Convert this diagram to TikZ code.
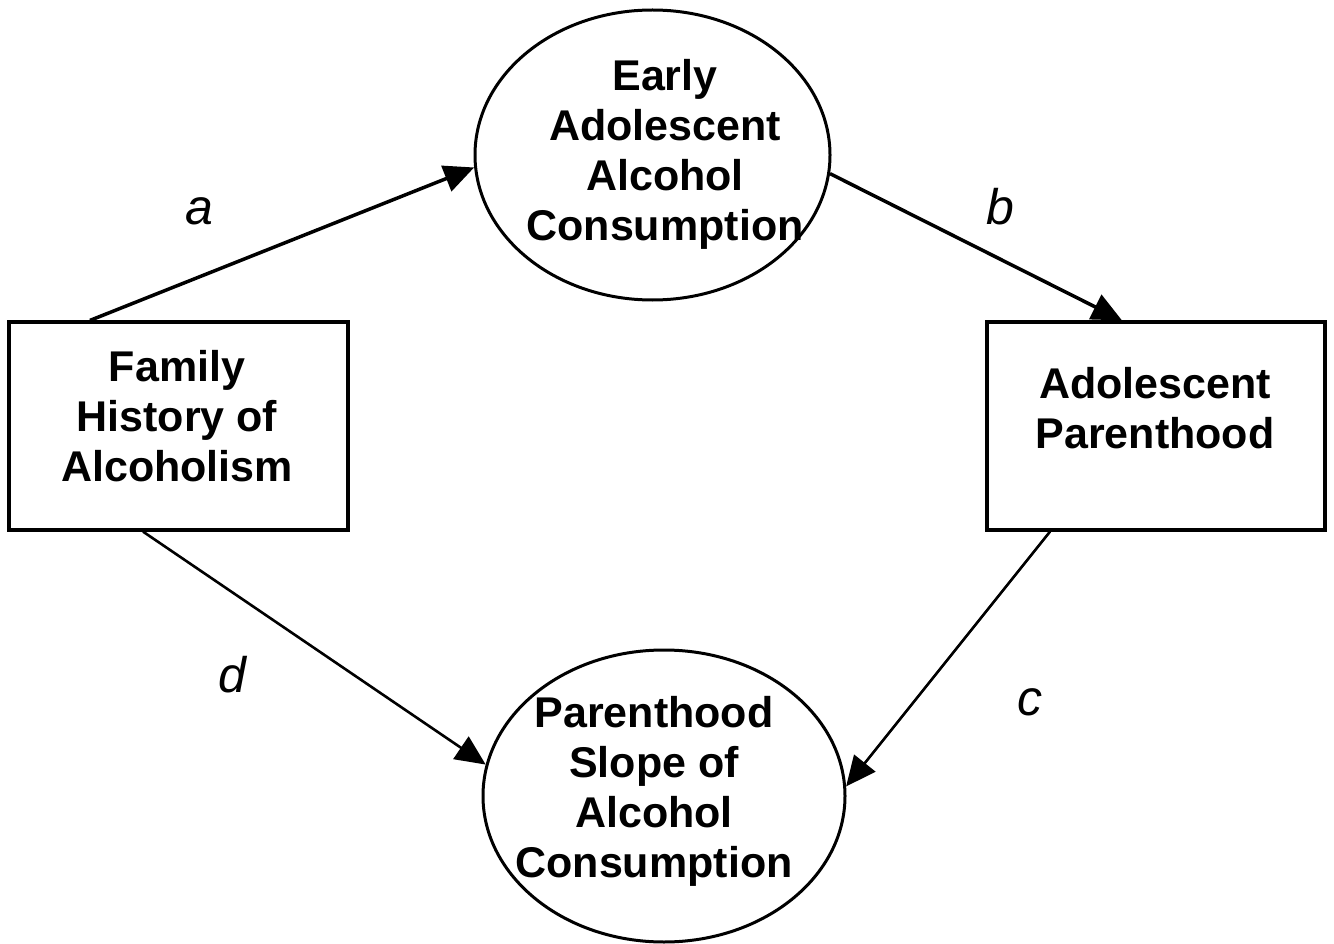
\documentclass[tikz,border=0pt]{standalone}
\usepackage{fontspec}
\setmainfont{Liberation Sans}
\usetikzlibrary{shapes.geometric,arrows.meta}
\tikzset{
  oval/.style={ellipse,draw,line width=3pt,fill=white,inner sep=0pt},
  boxnode/.style={rectangle,draw,line width=3.2pt,fill=white,inner sep=0pt},
  txt/.style={align=center,inner sep=0pt,font=\fontsize{43}{50}\selectfont\bfseries},
  lab/.style={anchor=base,inner sep=0pt,font=\fontsize{50}{56}\selectfont\itshape},
  thickarr/.style={line width=3.5pt,-{Triangle[length=30pt,width=27pt]}},
  thinarr/.style={line width=2.6pt,-{Triangle[length=30pt,width=27pt]}}
}
\begin{document}
\begin{tikzpicture}[x=1pt,y=-1pt]
\useasboundingbox (0,0) rectangle (1334,944);
% shapes
\node[oval,minimum width=355,minimum height=290] (top) at (652.5,155) {};
\node[oval,minimum width=362,minimum height=292] (bot) at (664,796) {};
\node[boxnode,minimum width=339,minimum height=208] (lbox) at (178.5,426) {};
\node[boxnode,minimum width=338,minimum height=208] (rbox) at (1156,426) {};
% connectors
\draw[thickarr] ([xshift=-88.5]lbox.north) -- (top.184);
\draw[thickarr] (top.-6) -- ([xshift=-34]rbox.north);
\draw[thinarr] ([xshift=-106]rbox.south) -- (bot.3.5);
\draw[thinarr] ([xshift=-35.5]lbox.south) -- (bot.170);
% texts
\node[txt] (toptext) at (665,154) {Early\\Adolescent\\Alcohol\\Consumption};
\node[txt] (bottext) at (654,791.5) {Parenthood\\Slope of\\Alcohol\\Consumption};
\node[txt] (ltext) at (177,416.5) {Family\\History of\\Alcoholism};
\node[txt] (rtext) at (1155,408.5) {Adolescent\\Parenthood};
% labels
\node[lab] (la) at (199,225) {a};
\node[lab] (lb) at (1000,225) {b};
\node[lab] (lc) at (1030,715) {c};
\node[lab] (ld) at (232,692) {d};
\end{tikzpicture}
\end{document}
